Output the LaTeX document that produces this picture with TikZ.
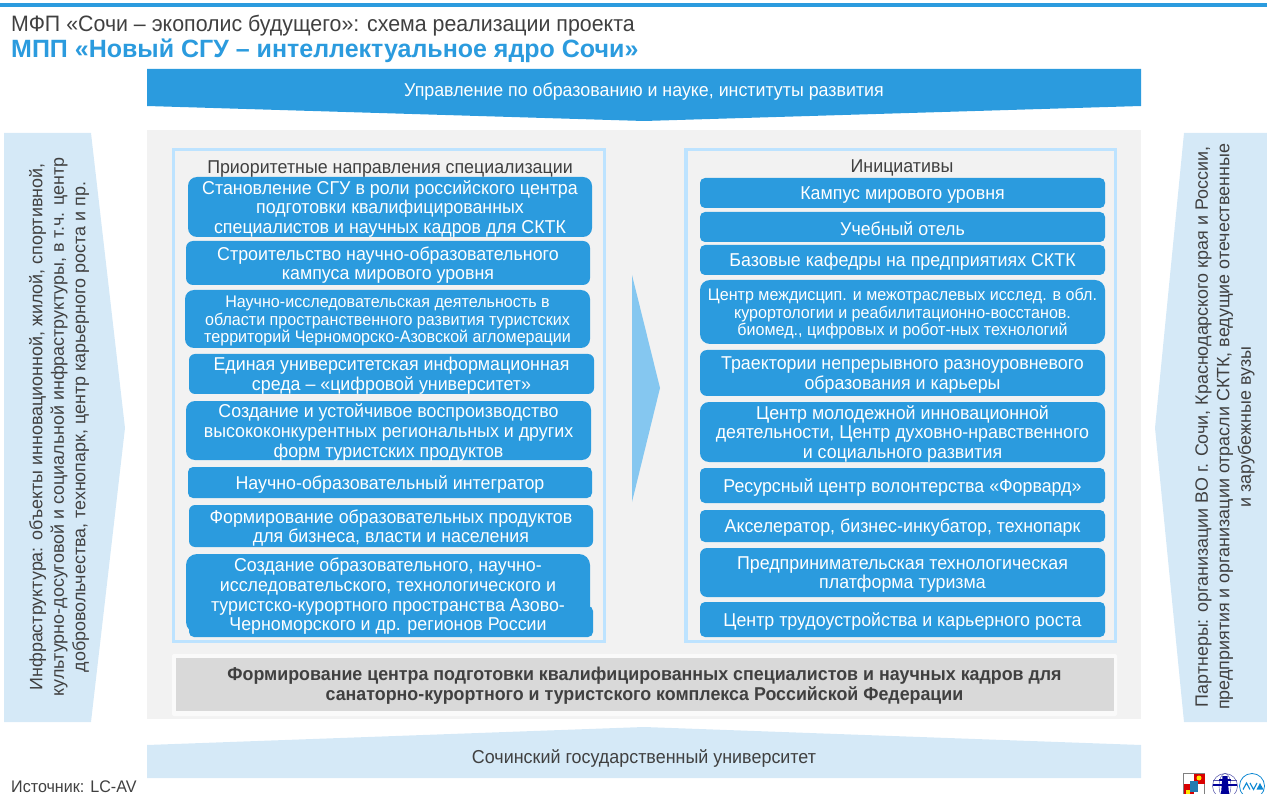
\documentclass[tikz,border=0pt]{standalone}
\usepackage{fontspec}
\setmainfont{Liberation Sans}
\newfontfamily\nar[FakeStretch=0.958]{Liberation Sans}
\definecolor{mainblue}{HTML}{2B9BDE}
\definecolor{paleblue}{HTML}{D5E9F7}
\definecolor{framebl}{HTML}{BDE3FF}
\definecolor{panelgr}{HTML}{F2F2F2}
\definecolor{txtgr}{HTML}{404040}
\definecolor{midblue}{HTML}{85C7F0}
\newcommand{\fs}[2]{\fontsize{#1}{#2}\selectfont}
\newcommand{\bx}[8][]{\fill[mainblue,rounded corners=#8] (#3,#4) rectangle (#5,#6); \node[bluebox,#1] (#2) at ({(#3+#5)/2},{(#4+#6)/2+2}) {#7};}
\tikzset{
 bluebox/.style={text=white,inner sep=0pt,align=center,font=\nar\fs{18.6}{19.7}},
 smallbox/.style={font=\nar\fs{16.8}{17.5}},
 plain/.style={text=txtgr,inner sep=0pt,align=center,font=\nar\fs{18.6}{20}},
 sidetxt/.style={text=txtgr,inner sep=0pt,align=center,rotate=90,font=\fs{17.9}{21.5}},
 frm/.style={draw=framebl,line width=3.5pt}
}
\begin{document}
\begin{tikzpicture}[x=1pt,y=-1pt]
\useasboundingbox (0,0) rectangle (1267,794);
\fill[mainblue] (0,3) rectangle (1267,7);
\node[anchor=base west,inner sep=0pt,text=txtgr,font=\nar\fs{22.3}{24}] (t1) at (11,32) {МФП «Сочи – экополис будущего»: схема реализации проекта};
\node[anchor=base west,inner sep=0pt,text=mainblue,font=\bfseries\fs{25}{26}] (t2) at (11,58) {МПП «Новый СГУ – интеллектуальное ядро Сочи»};
% banners
\fill[mainblue] (147,69) -- (1141,69) -- (1141,106) -- (644,121) -- (147,106) -- cycle;
\node[font=\nar\fs{18.6}{20},text=white,inner sep=0pt] (top) at (644,92) {Управление по образованию и науке, институты развития};
\fill[panelgr] (147,130) rectangle (1141,719);
\fill[paleblue] (147,745) -- (644,727) -- (1141,745) -- (1141,778) -- (147,778) -- cycle;
\node[font=\nar\fs{18.7}{20},text=txtgr,inner sep=0pt] (bot) at (644,758) {Сочинский государственный университет};
% side arrows
\fill[paleblue] (4,133) -- (91,133) -- (125,428) -- (91,722) -- (4,722) -- cycle;
\node[sidetxt] (lefttxt) at (59,427) {Инфраструктура: объекты инновационной, жилой, спортивной,\\культурно-досуговой и социальной инфраструктуры, в т.ч. центр\\добровольчества, технопарк, центр карьерного роста и пр.};
\fill[paleblue] (1267,133) -- (1184,133) -- (1155,428) -- (1184,722) -- (1267,722) -- cycle;
\node[sidetxt] (righttxt) at (1225,427) {Партнеры: организации ВО г. Сочи, Краснодарского края и России,\\предприятия и организации отрасли СКТК, ведущие отечественные\\и зарубежные вузы};
% frames
\draw[frm] (173.5,149.5) rectangle (604.5,641.5);
\draw[frm] (686,149.5) rectangle (1115.5,641.5);
\node[plain] (lhead) at (390,169) {Приоритетные направления специализации};
\node[plain] (rhead) at (902,168) {Инициативы};
% left boxes
\bx{l1}{188}{177}{592}{237}{Становление СГУ в роли российского центра\\подготовки квалифицированных\\специалистов и научных кадров для СКТК}{9pt}
\bx{l2}{186}{241}{590}{285}{Строительство научно-образовательного\\кампуса мирового уровня}{7pt}
\bx[smallbox]{l3}{185}{290}{590}{348}{Научно-исследовательская деятельность в\\области пространственного развития туристских\\территорий Черноморско-Азовской агломерации}{9pt}
\bx{l4}{189}{354}{594}{394}{Единая университетская информационная\\среда – «цифровой университет»}{6pt}
\bx{l5}{186}{401}{591}{460}{Создание и устойчивое воспроизводство\\высококонкурентных региональных и других\\форм туристских продуктов}{9pt}
\bx{l6}{188}{467}{592}{498}{Научно-образовательный интегратор}{5pt}
\bx{l7}{189}{505}{593}{547}{Формирование образовательных продуктов\\для бизнеса, власти и населения}{6pt}
\fill[mainblue,rounded corners=5pt] (189,606) rectangle (593,637);
\fill[mainblue,rounded corners=11pt] (186,554) rectangle (590,633);
\node[bluebox] (l8) at (388,596.5) {Создание образовательного, научно-\\исследовательского, технологического и\\туристско-курортного пространства Азово-\\Черноморского и др. регионов России};
% right boxes
\bx{r1}{700}{178}{1105}{208}{Кампус мирового уровня}{5pt}
\bx{r2}{700}{212}{1105}{242}{Учебный отель}{5pt}
\bx{r3}{700}{245}{1105}{275}{Базовые кафедры на предприятиях СКТК}{5pt}
\bx[smallbox]{r4}{700}{280}{1105}{344}{Центр междисцип. и межотраслевых исслед. в обл.\\курортологии и реабилитационно-восстанов.\\биомед., цифровых и робот-ных технологий}{10pt}
\bx{r5}{700}{350}{1105}{396}{Траектории непрерывного разноуровневого\\образования и карьеры}{7pt}
\bx{r6}{700}{402}{1105}{462}{Центр молодежной инновационной\\деятельности, Центр духовно-нравственного\\и социального развития}{9pt}
\bx{r7}{700}{468}{1105}{503}{Ресурсный центр волонтерства «Форвард»}{5pt}
\bx{r8}{700}{510}{1105}{542}{Акселератор, бизнес-инкубатор, технопарк}{5pt}
\bx{r9}{700}{548}{1105}{597}{Предпринимательская технологическая\\платформа туризма}{7pt}
\bx{r10}{700}{602}{1105}{637}{Центр трудоустройства и карьерного роста}{5pt}
% centre arrow
\fill[midblue] (632,275) -- (660,388) -- (632,502) -- cycle;
% result box
\fill[white!60!panelgr,rounded corners=2pt] (172,654) rectangle (1117,716);
\fill[black!15] (175.5,658) rectangle (1113.5,711);
\node[inner sep=0pt,text=txtgr,align=center,font=\nar\bfseries\fs{18.6}{20.5}] (res) at (644.5,685.5) {Формирование центра подготовки квалифицированных специалистов и научных кадров для\\санаторно-курортного и туристского комплекса Российской Федерации};
% source
\node[anchor=base west,inner sep=0pt,text=txtgr,font=\nar\fs{16.8}{18}] (src) at (11,792.5) {Источник: LC-AV};
% logos
\begin{scope}
\clip (1180,770) rectangle (1267,794);
\fill[white] (1183,773) rectangle (1205,794);
\draw[black!50,line width=.6pt] (1183.5,773.5) rectangle (1204.5,796);
\fill[red!85!black] (1194,773.5) rectangle (1204.5,784);
\fill[red!85!black] (1183.5,784) rectangle (1194,796);
\fill[yellow!90!orange] (1199,778) circle (2.5pt);
\fill[yellow!90!orange] (1186,790) rectangle (1190,794);
\fill[mainblue!80!black] (1190,781) rectangle (1198,792);
\draw[blue!50!black!70,line width=.5pt] (1225,786) circle (12.5pt);
\draw[blue!50!black!70,line width=.4pt] (1225,786) ellipse (6pt and 12.5pt);
\draw[blue!50!black!70,line width=.4pt] (1213,780) -- (1237,780);
\fill[blue!60!black] (1222.5,776) -- (1227.5,776) -- (1229,794) -- (1221,794) -- cycle;
\draw[blue!60!black,line width=1.2pt] (1213,785) -- (1237,785);
\fill[blue!60!black] (1219,779) rectangle (1231,781);
\draw[cyan!70!blue,line width=.8pt] (1252,786) circle (12.5pt);
\draw[cyan!70!blue,line width=1.1pt] (1243,789.5) -- (1246.5,783) -- (1250,789.5);
\draw[cyan!70!blue,line width=1.1pt] (1250,783) -- (1253.5,789.5) -- (1257,783);
\fill[cyan!70!blue] (1256.5,789.5) -- (1260,783) -- (1263.5,789.5) -- cycle;
\end{scope}
\end{tikzpicture}
\end{document}
